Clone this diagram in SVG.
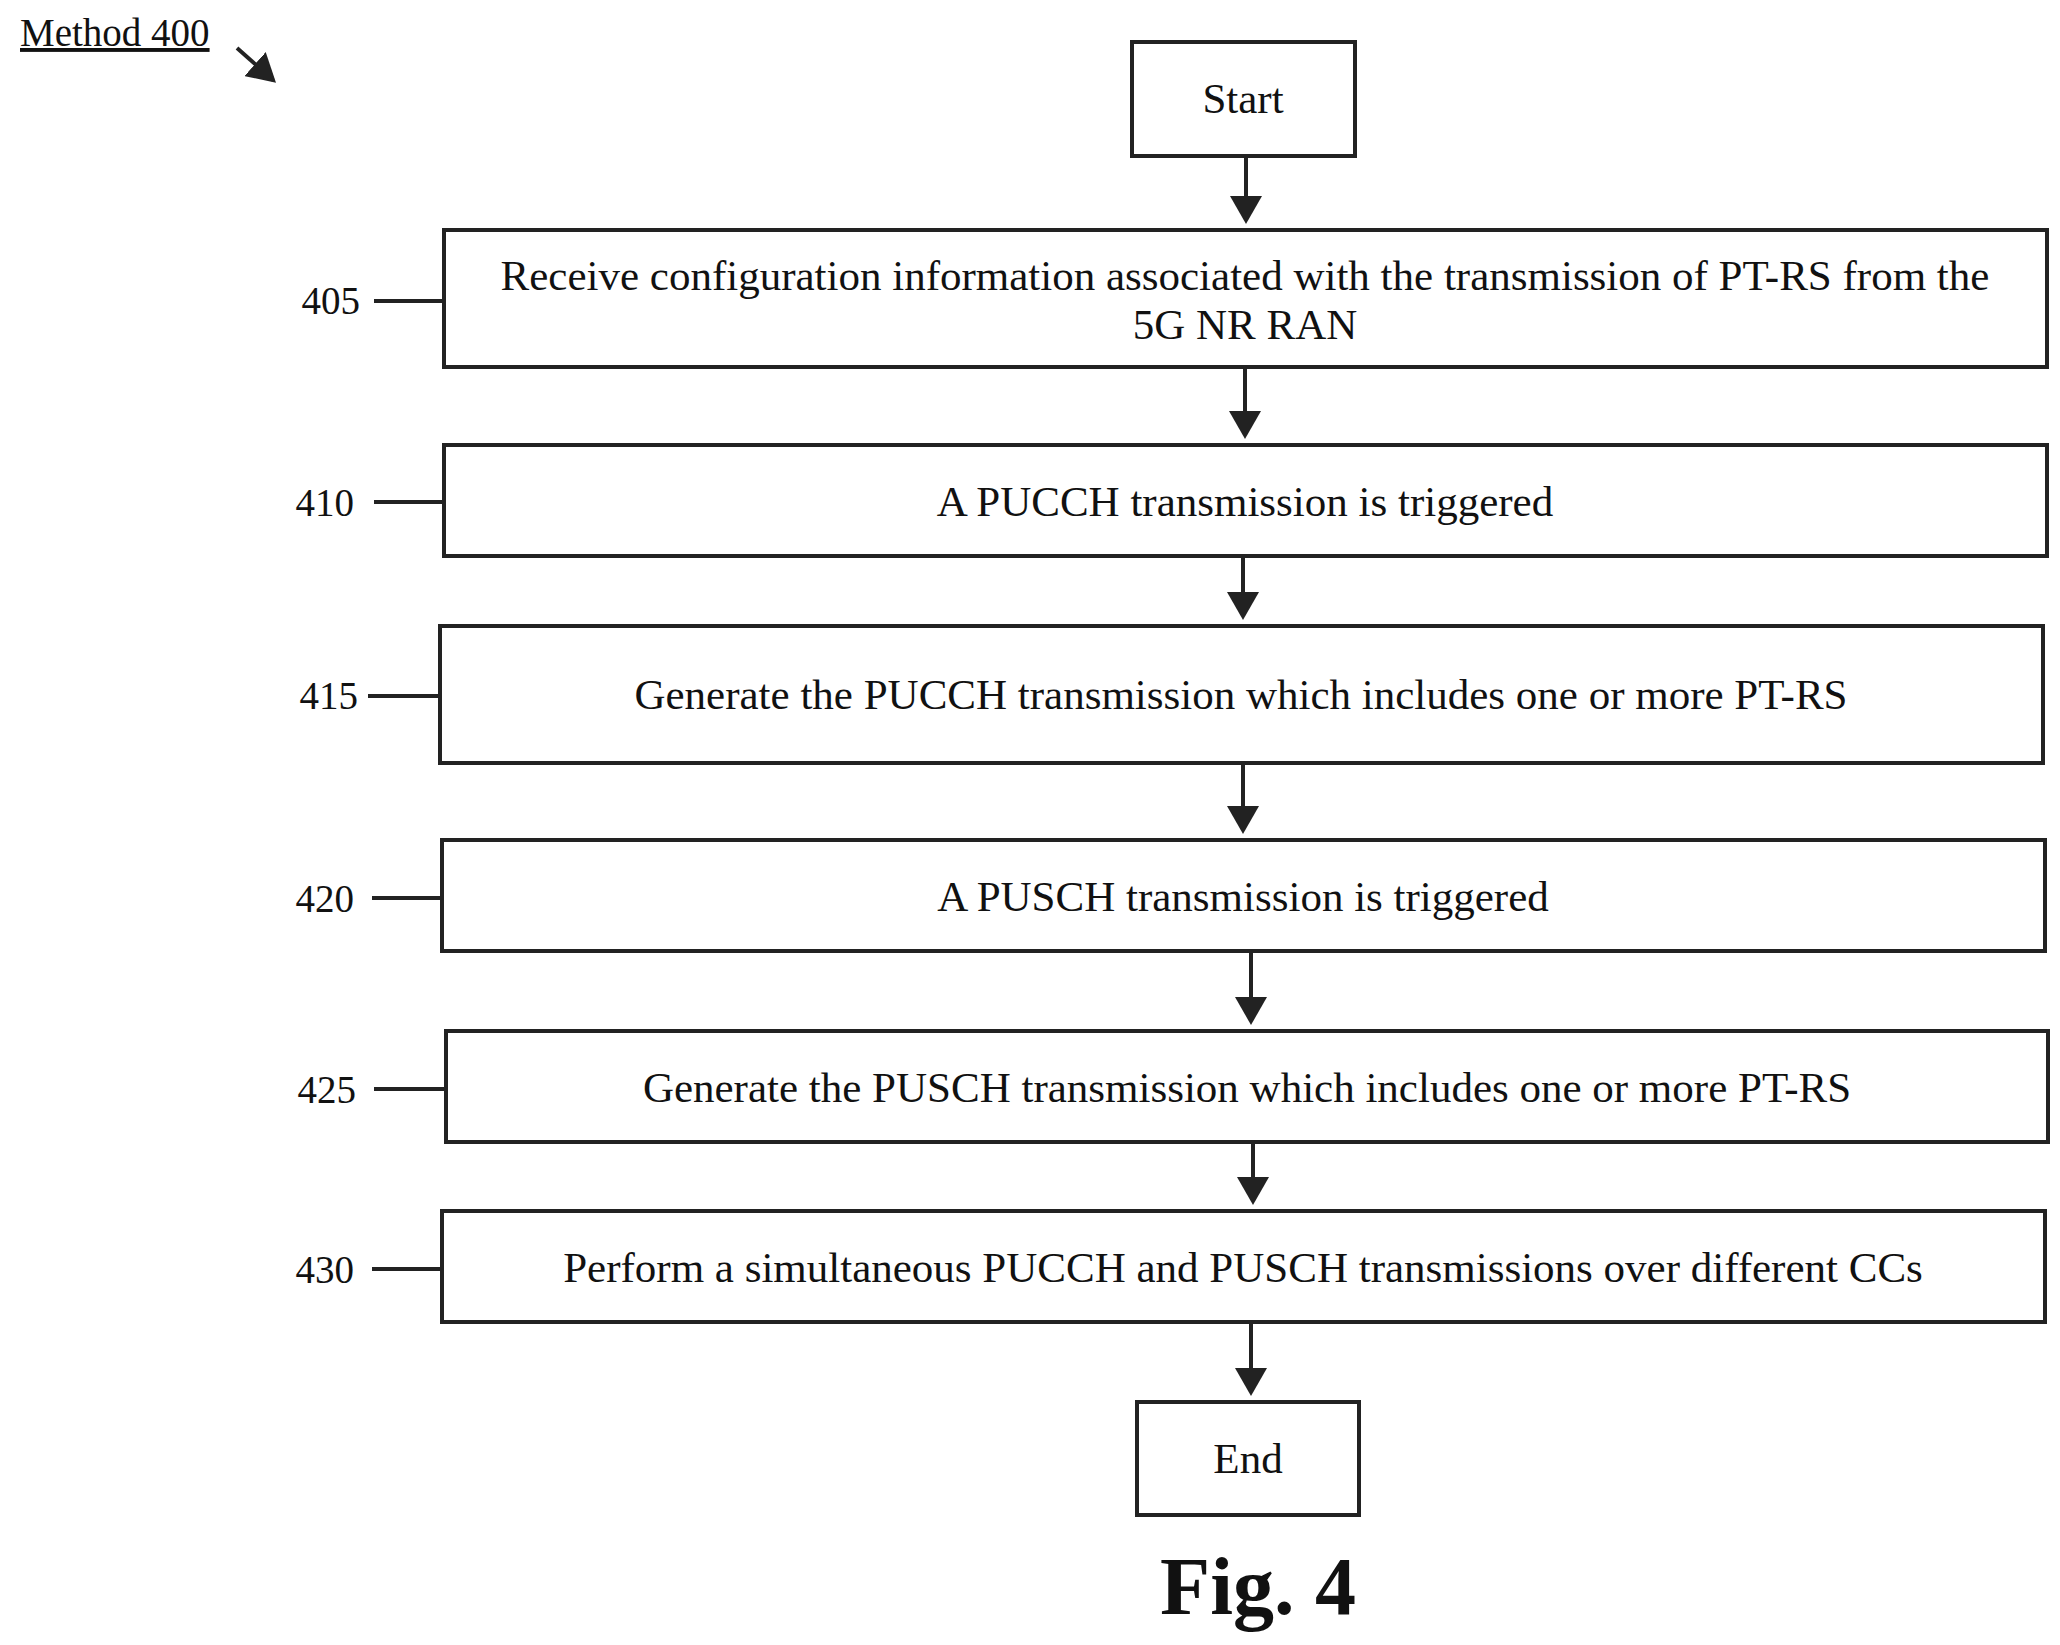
<svg xmlns="http://www.w3.org/2000/svg" width="2060" height="1645" viewBox="0 0 2060 1645">
<style>
.b{fill:#fff;stroke:#222;stroke-width:4}
.t{font-family:"Liberation Serif",serif;font-size:43px;fill:#111;text-anchor:middle}
.l{font-family:"Liberation Serif",serif;font-size:39px;fill:#111;text-anchor:end}
.c{stroke:#222;stroke-width:4;fill:none}
</style>
<defs><marker id="a" markerWidth="8" markerHeight="8" refX="6" refY="4" orient="auto" markerUnits="strokeWidth"><path d="M0,0L7,4L0,8Z" fill="#222"/></marker></defs>
<rect width="2060" height="1645" fill="#fff"/>
<g id="title"><text x="20" y="46" style="font-family:'Liberation Serif',serif;font-size:39px;fill:#111" text-decoration="underline">Method 400</text>
<line x1="237" y1="48" x2="273" y2="80" class="c" marker-end="url(#a)"/></g>
<g id="start"><rect class="b" x="1132" y="42" width="223" height="114"/><text class="t" x="1243" y="113">Start</text></g>
<g id="n405"><rect class="b" x="444" y="230" width="1603" height="137"/><text class="t" x="1245" y="290">Receive configuration information associated with the transmission of PT-RS from the</text><text class="t" x="1245" y="339">5G NR RAN</text><text class="l" x="360" y="314">405</text></g>
<g id="n410"><rect class="b" x="444" y="445" width="1603" height="111"/><text class="t" x="1245" y="516">A PUCCH transmission is triggered</text><text class="l" x="354" y="516">410</text></g>
<g id="n415"><rect class="b" x="440" y="626" width="1603" height="137"/><text class="t" x="1241" y="709">Generate the PUCCH transmission which includes one or more PT-RS</text><text class="l" x="358" y="709">415</text></g>
<g id="n420"><rect class="b" x="442" y="840" width="1603" height="111"/><text class="t" x="1243" y="911">A PUSCH transmission is triggered</text><text class="l" x="354" y="912">420</text></g>
<g id="n425"><rect class="b" x="446" y="1031" width="1602" height="111"/><text class="t" x="1247" y="1102">Generate the PUSCH transmission which includes one or more PT-RS</text><text class="l" x="356" y="1103">425</text></g>
<g id="n430"><rect class="b" x="442" y="1211" width="1603" height="111"/><text class="t" x="1243" y="1282">Perform a simultaneous PUCCH and PUSCH transmissions over different CCs</text><text class="l" x="354" y="1283">430</text></g>
<g id="end"><rect class="b" x="1137" y="1402" width="222" height="113"/><text class="t" x="1248" y="1473">End</text></g>
<text x="1258" y="1614" style="font-family:'Liberation Serif',serif;font-size:82px;font-weight:bold;fill:#111;text-anchor:middle">Fig. 4</text>
<g id="connectors">
<line class="c" x1="1246" y1="156" x2="1246" y2="220" marker-end="url(#a)"/>
<line class="c" x1="1245" y1="367" x2="1245" y2="435" marker-end="url(#a)"/>
<line class="c" x1="1243" y1="556" x2="1243" y2="616" marker-end="url(#a)"/>
<line class="c" x1="1243" y1="763" x2="1243" y2="830" marker-end="url(#a)"/>
<line class="c" x1="1251" y1="951" x2="1251" y2="1021" marker-end="url(#a)"/>
<line class="c" x1="1253" y1="1142" x2="1253" y2="1201" marker-end="url(#a)"/>
<line class="c" x1="1251" y1="1322" x2="1251" y2="1392" marker-end="url(#a)"/>
<line class="c" x1="374" y1="301" x2="444" y2="301"/>
<line class="c" x1="374" y1="502" x2="444" y2="502"/>
<line class="c" x1="368" y1="696" x2="440" y2="696"/>
<line class="c" x1="372" y1="898" x2="442" y2="898"/>
<line class="c" x1="374" y1="1089" x2="446" y2="1089"/>
<line class="c" x1="372" y1="1269" x2="442" y2="1269"/>
</g>
</svg>
